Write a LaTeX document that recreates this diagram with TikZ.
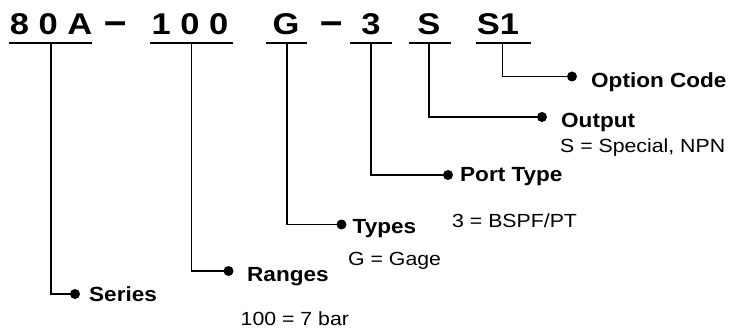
\documentclass[tikz,border=0pt]{standalone}
\usepackage{fontspec}
\setmainfont{Liberation Sans}
\usepackage{graphicx}
\newcommand\wide[2]{\scalebox{#1}[1]{#2}}
\begin{document}
\begin{tikzpicture}[x=1pt,y=-1pt,
  codetxt/.style={inner sep=0pt, anchor=base, font=\fontsize{30}{31}\selectfont\bfseries},
  dashtxt/.style={inner sep=0pt, anchor=base, font=\fontsize{40}{40}\selectfont\bfseries},
  lbl/.style={inner sep=0pt, anchor=base west, font=\fontsize{20.5}{22}\selectfont\bfseries},
  dsc/.style={inner sep=0pt, anchor=base west, font=\fontsize{19}{21}\selectfont},
  dot/.style={circle, fill=black, inner sep=0pt, minimum size=10pt},
  uline/.style={line width=1.3pt},
  conn/.style={line width=1.2pt}]
\useasboundingbox (0,0) rectangle (737,329);
% code characters
\node[codetxt] (c1) at (51,34.5) {\wide{1.15}{8 0 A}};
\node[dashtxt] (h1) at (116,35) {–};
\node[codetxt] (c2) at (190,34.5) {\wide{1.15}{1 0 0}};
\node[codetxt] (c3) at (286,34.5) {\wide{1.15}{G}};
\node[dashtxt] (h2) at (332,35) {–};
\node[codetxt] (c4) at (371,34.5) {\wide{1.15}{3}};
\node[codetxt] (c5) at (429,34.5) {\wide{1.15}{S}};
\node[codetxt] (c6) at (498,34.5) {\wide{1.15}{S1}};
% underlines
\coordinate (a1) at (9,43);   \coordinate (b1) at (92,43);
\coordinate (a2) at (150,43); \coordinate (b2) at (233,43);
\coordinate (a3) at (266,43); \coordinate (b3) at (307,43);
\coordinate (a4) at (350,43); \coordinate (b4) at (392,43);
\coordinate (a5) at (409,43); \coordinate (b5) at (451,43);
\coordinate (a6) at (476,43); \coordinate (b6) at (531,43);
\foreach \i in {1,...,6} \draw[uline] (a\i) -- (b\i);
% connector start points
\coordinate (u1) at (51,43);
\coordinate (u2) at (191.5,43);
\coordinate (u3) at (287,43);
\coordinate (u4) at (371,43);
\coordinate (u5) at (429,43);
\coordinate (u6) at (502.5,43);
% dots
\node[dot] (d1) at (75,294) {};
\node[dot] (d2) at (228.5,271) {};
\node[dot] (d3) at (341.5,224.5) {};
\node[dot] (d4) at (448,175) {};
\node[dot] (d5) at (542,117) {};
\node[dot] (d6) at (572,76.5) {};
% connectors
\draw[conn] (u1) |- (d1.center);
\draw[conn] (u2) |- (d2.center);
\draw[conn] (u3) |- (d3.center);
\draw[conn] (u4) |- (d4.center);
\draw[conn] (u5) |- (d5.center);
\draw[conn] (u6) |- (d6.center);
% labels
\node[lbl] (l1) at (89,301) {\wide{1.1}{Series}};
\node[lbl] (l2) at (247,281) {\wide{1.1}{Ranges}};
\node[dsc] (t2) at (240.5,325) {\wide{1.12}{100 = 7 bar}};
\node[lbl] (l3) at (352.5,233) {\wide{1.1}{Types}};
\node[dsc] (t3) at (348,265.5) {\wide{1.12}{G = Gage}};
\node[lbl] (l4) at (460,181.5) {\wide{1.1}{Port Type}};
\node[dsc] (t4) at (452,227) {\wide{1.12}{3 = BSPF/PT}};
\node[lbl] (l5) at (561,128) {\wide{1.1}{Output}};
\node[dsc] (t5) at (560,153) {\wide{1.12}{S = Special, NPN}};
\node[lbl] (l6) at (591,88) {\wide{1.1}{Option Code}};
\end{tikzpicture}
\end{document}
